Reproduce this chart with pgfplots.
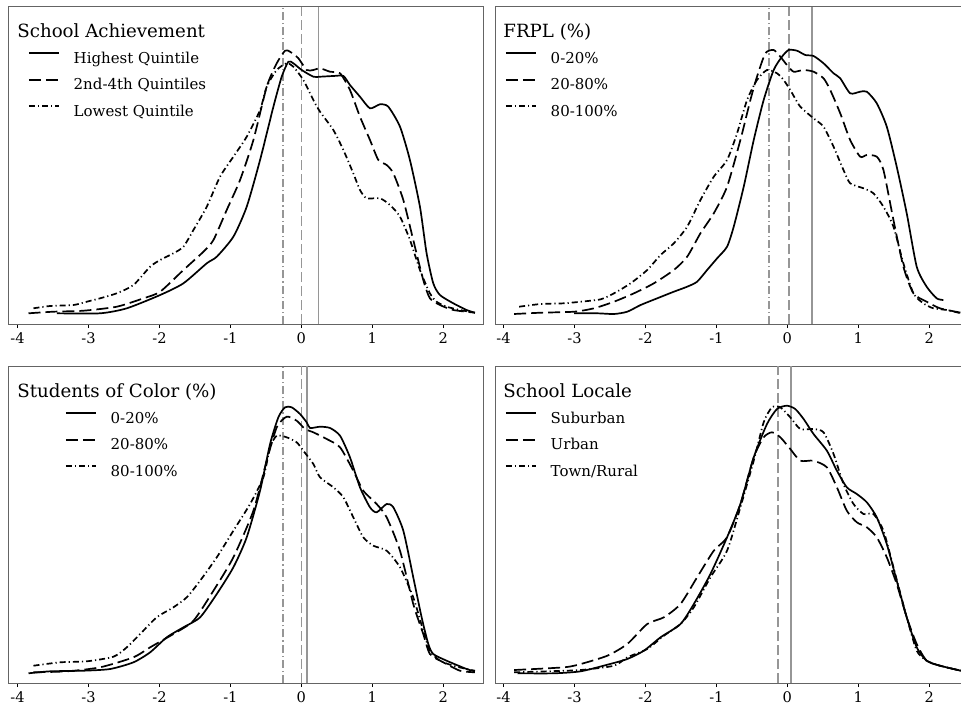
\documentclass[border=0pt]{standalone}
\usepackage{pgfplots}
\pgfplotsset{compat=1.18}
\usepackage{fontspec}
\setmainfont{DejaVu Serif}

\definecolor{vline}{RGB}{150,150,150}
\definecolor{framec}{RGB}{100,100,100}

\pgfplotsset{
  panel/.style={
    scale only axis, width=237pt, height=158.5pt,
    xmin=-4.12, xmax=2.56, ymin=0, ymax=317,
    xtick={-4,-3,-2,-1,0,1,2}, xticklabels={-4,-3,-2,-1,0,1,2},
    ytick=\empty, xtick pos=bottom, tick align=outside, major tick length=2pt,
    axis line style={draw=framec, line width=0.5pt},
    every tick/.style={black, line width=0.5pt},
    ticklabel style={font=\fontsize{7.3}{9}\selectfont},
    xticklabel style={yshift=1pt},
    legend cell align=left,
    legend image code/.code={\draw[##1, line width=0.85pt] (0pt,2.9pt) -- (15pt,2.9pt);},
    legend style={draw=none, fill=none, anchor=north west, inner sep=0pt, outer sep=0pt,
      row sep=5.25pt, column sep=7pt, font=\fontsize{7.5}{9}\selectfont,
      nodes={inner sep=0pt, text height=6pt, text depth=2pt}},
  },
  sol/.style={black, line width=0.85pt, smooth, tension=0.4},
  das/.style={black, line width=0.85pt, smooth, tension=0.4, dash pattern=on 6pt off 2.5pt},
  dot/.style={black, line width=0.85pt, smooth, tension=0.4, dash pattern=on 3pt off 1.5pt on 0.6pt off 1.5pt},
  vsol/.style={vline, line width=0.75pt, forget plot},
  vdas/.style={vline, line width=0.75pt, forget plot, dash pattern=on 5pt off 2pt},
  vdot/.style={vline, line width=0.75pt, forget plot, dash pattern=on 4pt off 1.5pt on 0.6pt off 1.5pt},
}
\newcommand{\paneltitle}[1]{\node[anchor=base west, inner sep=0pt, font=\fontsize{9.1}{11}\selectfont] at (rel axis cs:0,1) [xshift=4pt, yshift=-15.5pt] {#1};}

\begin{document}
\begin{tikzpicture}
% ---------------- Panel 1: School Achievement
\begin{axis}[panel, at={(4.5pt,-3.5pt)}, anchor=north west,
  legend style={at={(0,1)}, xshift=9.5pt, yshift=-22pt}]
\addplot[vsol] coordinates {(0.24,0) (0.24,317)};
\addplot[vdas] coordinates {(0.0,0) (0.0,317)};
\addplot[vdot] coordinates {(-0.26,0) (-0.26,317)};
\addplot[sol] coordinates {
(-3.446,10.7) (-2.836,10.7) (-2.46,15.7) (-1.99,29) (-1.662,40.7) (-1.333,60.7)
(-1.192,67.3) (-0.958,87.3) (-0.77,117.3) (-0.582,164) (-0.394,217.3) (-0.277,247.3)
(-0.183,262.3) (-0.113,260.7) (0.005,254) (0.169,247.3) (0.263,247.3) (0.451,248)
(0.592,248) (0.685,239) (0.826,227.3) (0.967,215.7) (1.108,219.7) (1.225,217.3)
(1.39,197.3) (1.53,164) (1.671,117.3) (1.765,70.7) (1.859,40.7) (1.953,29)
(2.141,20.7) (2.329,14) (2.446,11.3)};
\addplot[das] coordinates {
(-3.845,10.7) (-3.493,12.3) (-3.07,13.3) (-2.601,17.3) (-2.225,25.7) (-1.99,32.3)
(-1.662,54) (-1.38,72.3) (-1.239,84) (-1.052,114) (-0.864,144) (-0.676,184)
(-0.488,237.3) (-0.347,260.7) (-0.23,273.3) (-0.16,272.3) (-0.042,265.7) (0.075,254)
(0.169,254) (0.263,255.7) (0.404,252.3) (0.545,250.7) (0.685,234) (0.826,207.3)
(0.967,184) (1.085,164) (1.202,159) (1.296,150.7) (1.437,124) (1.577,84)
(1.718,44) (1.812,25.7) (1.953,19) (2.141,14) (2.446,11.3)};
\addplot[dot] coordinates {
(-3.775,15.7) (-3.54,18) (-3.211,19) (-3.023,22.3) (-2.836,25.7) (-2.601,30.7)
(-2.366,39) (-2.131,57.3) (-1.99,64) (-1.803,70.7) (-1.662,77.3) (-1.521,94)
(-1.333,117.3) (-1.146,147.3) (-0.958,167.3) (-0.77,187.3) (-0.582,214) (-0.488,237.3)
(-0.347,254) (-0.207,260.7) (-0.113,257.3) (0.028,244) (0.169,224) (0.263,212.3)
(0.451,194) (0.592,174) (0.732,150.7) (0.826,134) (0.92,125.7) (1.108,125.7)
(1.249,119) (1.39,107.3) (1.531,84) (1.671,54) (1.812,30.7) (1.906,22.3)
(2.047,17.3) (2.235,14) (2.446,11.3)};
\legend{Highest Quintile, 2nd-4th Quintiles, Lowest Quintile}
\paneltitle{School Achievement}
\end{axis}
% ---------------- Panel 2: FRPL
\begin{axis}[panel, at={(247.5pt,-3.5pt)}, anchor=north west,
  legend style={at={(0,1)}, xshift=5pt, yshift=-22pt}]
\addplot[vsol] coordinates {(0.35,0) (0.35,317)};
\addplot[vdas] coordinates {(0.02,0) (0.02,317)};
\addplot[vdot] coordinates {(-0.26,0) (-0.26,317)};
\addplot[sol] coordinates {
(-3.006,10.7) (-2.678,10.7) (-2.443,10) (-2.256,12.3) (-2.068,19) (-1.834,25.7)
(-1.6,32.3) (-1.412,37.3) (-1.272,42.3) (-1.131,54) (-0.99,65.7) (-0.85,77.3)
(-0.756,97.3) (-0.615,137.3) (-0.474,184) (-0.334,224) (-0.193,254) (-0.076,267.3)
(0.018,274) (0.135,273.3) (0.252,269) (0.369,268) (0.51,260.7) (0.651,250.7)
(0.745,245.7) (0.885,230.7) (1.026,232.3) (1.12,232.3) (1.26,220.7) (1.401,197.3)
(1.541,157.3) (1.682,110.7) (1.823,57.3) (1.963,37.3) (2.104,25.7) (2.198,24)};
\addplot[das] coordinates {
(-3.85,10) (-3.475,11.3) (-3.006,12.3) (-2.725,15.7) (-2.443,22.3) (-2.162,30.7)
(-1.881,40.7) (-1.6,54) (-1.412,67.3) (-1.225,90.7) (-1.037,110.7) (-0.85,137.3)
(-0.662,184) (-0.521,224) (-0.428,247.3) (-0.31,270.7) (-0.193,274) (-0.099,267.3)
(-0.006,259) (0.088,252.3) (0.229,254) (0.369,252.3) (0.51,245.7) (0.604,234)
(0.745,210.7) (0.885,184) (1.026,167.3) (1.12,169) (1.26,167.3) (1.354,154)
(1.495,104) (1.635,57.3) (1.776,30.7) (1.963,22.3) (2.151,15.7) (2.446,11.3)};
\addplot[dot] coordinates {
(-3.78,17.3) (-3.475,20) (-3.147,20.7) (-2.912,22.3) (-2.631,24.7) (-2.443,30.7)
(-2.209,40.7) (-1.975,54) (-1.787,69) (-1.6,80.7) (-1.412,97.3) (-1.225,124)
(-1.037,147.3) (-0.85,164) (-0.709,190.7) (-0.568,224) (-0.428,244) (-0.287,254)
(-0.146,250.7) (-0.053,244) (0.041,234) (0.182,217.3) (0.369,205.7) (0.51,197.3)
(0.651,177.3) (0.791,154) (0.885,140.7) (1.073,135.7) (1.213,130.7) (1.354,117.3)
(1.495,97.3) (1.635,60.7) (1.776,30.7) (1.916,20.7) (2.057,15.7) (2.245,14) (2.446,10.7)};
\legend{0-20\%, 20-80\%, 80-100\%}
\paneltitle{FRPL (\%)}
\end{axis}
% ---------------- Panel 3: Students of Color
\begin{axis}[panel, at={(4.5pt,-183pt)}, anchor=north west,
  legend style={at={(0,1)}, xshift=28pt, yshift=-22.5pt}]
\addplot[vsol] coordinates {(0.08,0) (0.08,317)};
\addplot[vdas] coordinates {(0.0,0) (0.0,317)};
\addplot[vdot] coordinates {(-0.26,0) (-0.26,317)};
\addplot[sol] coordinates {
(-3.845,9.7) (-3.54,11.7) (-3.07,12.3) (-2.695,14) (-2.366,20.7) (-2.131,30.7)
(-1.897,45.7) (-1.662,55.7) (-1.427,65.7) (-1.192,89) (-0.958,115.7) (-0.77,145.7)
(-0.582,192.3) (-0.441,239) (-0.324,265.7) (-0.23,275.7) (-0.136,275.7) (-0.019,269)
(0.075,260.7) (0.122,255) (0.263,256.3) (0.404,255) (0.545,247.3) (0.685,225.7)
(0.826,195.7) (0.967,175.7) (1.061,170.7) (1.202,179) (1.296,175.7) (1.437,152.3)
(1.577,105.7) (1.695,65.7) (1.789,39) (1.859,29) (2.047,22.3) (2.329,14) (2.446,11.7)};
\addplot[das] coordinates {
(-3.775,10.7) (-3.305,11.7) (-2.836,15.7) (-2.366,25.7) (-2.131,35.7) (-1.803,49)
(-1.521,62.3) (-1.239,92.3) (-0.958,125.7) (-0.676,172.3) (-0.488,222.3) (-0.347,255.7)
(-0.207,266.3) (-0.066,262.3) (0.052,254) (0.169,250.7) (0.357,244) (0.545,235.7)
(0.732,212.3) (0.873,192.3) (1.061,179) (1.202,165.7) (1.39,132.3) (1.577,79)
(1.718,49) (1.812,29) (2.0,20.7) (2.235,12.3) (2.446,10.7)};
\addplot[dot] coordinates {
(-3.775,17.3) (-3.399,20.7) (-3.023,21.7) (-2.648,26.3) (-2.46,35.7) (-2.272,49)
(-2.038,65.7) (-1.803,75.7) (-1.615,85.7) (-1.427,102.3) (-1.192,125.7) (-0.958,152.3)
(-0.723,179) (-0.535,205.7) (-0.441,235.7) (-0.347,247.3) (-0.207,245.7) (-0.066,240.7)
(0.028,232.3) (0.169,219) (0.263,205.7) (0.451,195.7) (0.592,185.7) (0.732,165.7)
(0.873,145.7) (1.014,137.3) (1.202,132.3) (1.39,115.7) (1.577,85.7) (1.718,52.3)
(1.812,32.3) (1.953,22.3) (2.141,17.3) (2.329,14) (2.446,12.3)};
\legend{0-20\%, 20-80\%, 80-100\%}
\paneltitle{Students of Color (\%)}
\end{axis}
% ---------------- Panel 4: School Locale
\begin{axis}[panel, at={(247.5pt,-183pt)}, anchor=north west,
  legend style={at={(0,1)}, xshift=5pt, yshift=-22.5pt}]
\addplot[vsol] coordinates {(0.05,0) (0.05,317)};
\addplot[vdas] coordinates {(-0.135,0) (-0.135,317)};
\addplot[vdot] coordinates {(0.06,0) (0.06,317)};
\addplot[sol] coordinates {
(-3.803,9.7) (-3.287,9.7) (-2.912,11.7) (-2.537,18.3) (-2.256,24) (-2.022,32.3)
(-1.787,45.7) (-1.506,59) (-1.318,79) (-1.084,109) (-0.85,145.7) (-0.662,179)
(-0.474,225.7) (-0.287,259) (-0.146,274) (-0.006,277.3) (0.111,274) (0.229,264)
(0.369,249) (0.557,232.3) (0.698,212.3) (0.838,195.7) (0.979,189) (1.12,180.7)
(1.26,165.7) (1.401,139) (1.541,102.3) (1.682,65.7) (1.823,35.7) (1.963,22.3)
(2.151,17.3) (2.446,12.3)};
\addplot[das] coordinates {
(-3.85,13) (-3.147,15.7) (-2.912,19) (-2.537,27.3) (-2.256,39) (-1.975,59)
(-1.74,65.7) (-1.506,79) (-1.272,105.7) (-1.037,132.3) (-0.85,145.7) (-0.662,179)
(-0.474,225.7) (-0.334,245.7) (-0.217,250.7) (-0.099,245.7) (0.041,234) (0.182,222.3)
(0.369,222.3) (0.557,215.7) (0.698,195.7) (0.838,172.3) (0.979,160.7) (1.12,155.7)
(1.26,145.7) (1.401,125.7) (1.541,99) (1.682,65.7) (1.823,39) (1.963,22.3)
(2.151,17.3) (2.446,12.3)};
\addplot[dot] coordinates {
(-3.85,10.7) (-3.381,11.7) (-2.912,13) (-2.443,17.3) (-2.256,25.7) (-1.975,34)
(-1.74,47.3) (-1.506,59) (-1.318,75.7) (-1.084,105.7) (-0.85,132.3) (-0.662,175.7)
(-0.474,222.3) (-0.334,260.7) (-0.217,275.7) (-0.099,275.7) (0.041,265.7) (0.182,254)
(0.369,254) (0.51,250.7) (0.651,229) (0.791,199) (0.932,179) (1.073,169)
(1.213,169) (1.354,152.3) (1.495,115.7) (1.682,65.7) (1.823,32.3) (1.963,22.3)
(2.151,17.3) (2.446,12.3)};
\legend{Suburban, Urban, Town/Rural}
\paneltitle{School Locale}
\end{axis}
\pgfresetboundingbox
\useasboundingbox (0,0) rectangle (480.5pt,-353pt);
\end{tikzpicture}
\end{document}
